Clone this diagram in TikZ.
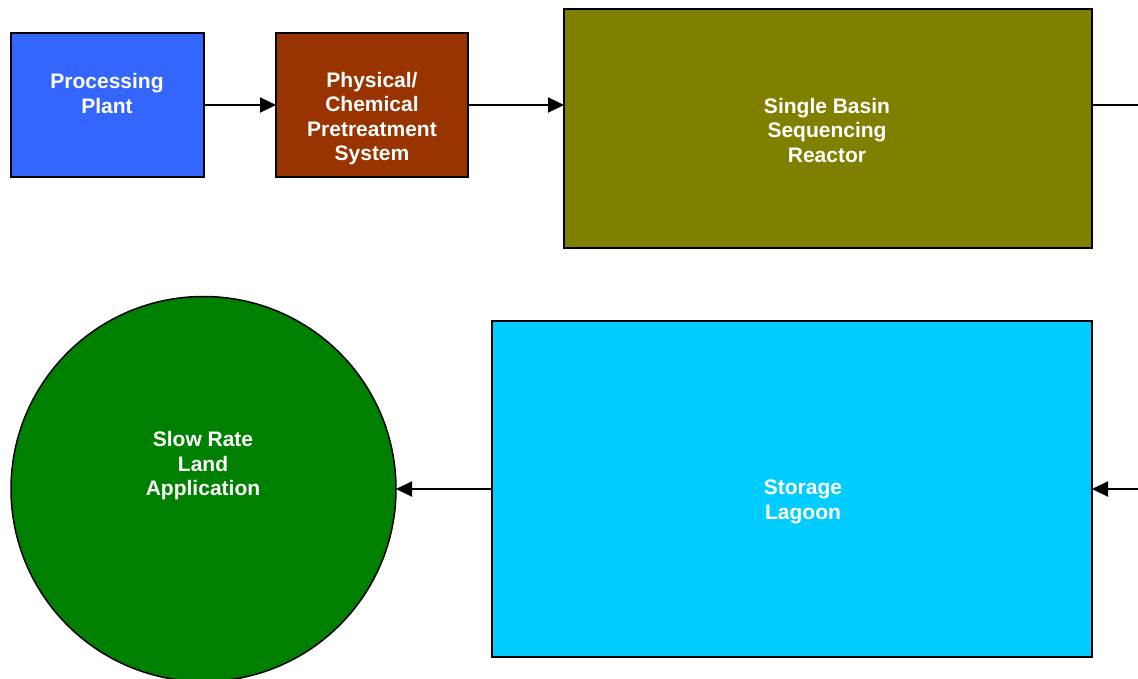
\documentclass[tikz,border=0pt]{standalone}
\usepackage{fontspec}
\setmainfont{Liberation Sans}
\usetikzlibrary{arrows.meta}
\definecolor{cBlue}{HTML}{3366FF}
\definecolor{cBrown}{HTML}{993300}
\definecolor{cOlive}{HTML}{808000}
\definecolor{cCyan}{HTML}{00CCFF}
\definecolor{cGreen}{HTML}{008000}
\begin{document}
\begin{tikzpicture}[x=1pt,y=-1pt,
  blockbox/.style={draw=black,line width=2pt,inner sep=0pt,outer sep=0pt,rectangle},
  lbl/.style={text=white,font=\fontsize{21}{24.5}\selectfont\bfseries,align=center,inner sep=0pt},
  conn/.style={line width=2.2pt,-{Triangle[length=16pt,width=15pt]}},
  plainconn/.style={line width=2.2pt}]
\useasboundingbox (0,0) rectangle (1138,679);
\node[blockbox,fill=cBlue,minimum width=193pt,minimum height=144pt] (pp) at (107.5,105) {};
\node[blockbox,fill=cBrown,minimum width=192pt,minimum height=144pt] (pc) at (372,105) {};
\node[blockbox,fill=cOlive,minimum width=528pt,minimum height=239pt] (sbr) at (828,128.5) {};
\node[blockbox,fill=cCyan,minimum width=600pt,minimum height=336pt] (sl) at (792,489) {};
\node[draw=black,line width=1.5pt,fill=cGreen,circle,minimum size=385pt,inner sep=0pt,outer sep=0pt] (lr) at (203.5,489) {};
\node[lbl] (tpp) at (107,93.5) {Processing\\Plant};
\node[lbl] (tpc) at (372,118.5) {Physical/\\Chemical\\Pretreatment\\System};
\node[lbl] (tsbr) at (827,130) {Single Basin\\Sequencing\\Reactor};
\node[lbl] (tsl) at (803,502) {Storage\\Lagoon};
\node[lbl] (tlr) at (203,466) {Slow Rate\\Land\\Application};
\coordinate (outA) at (1140,105);
\coordinate (inA) at (1140,489);
\draw[conn] (pp.east) -- (pc.west);
\draw[conn] (pc.east) -- (pc.east -| sbr.west);
\draw[plainconn] (sbr.east |- outA) -- (outA);
\draw[conn] (inA) -- (sl.east |- inA);
\draw[conn] (sl.west) -- (lr.east);
\end{tikzpicture}
\end{document}
